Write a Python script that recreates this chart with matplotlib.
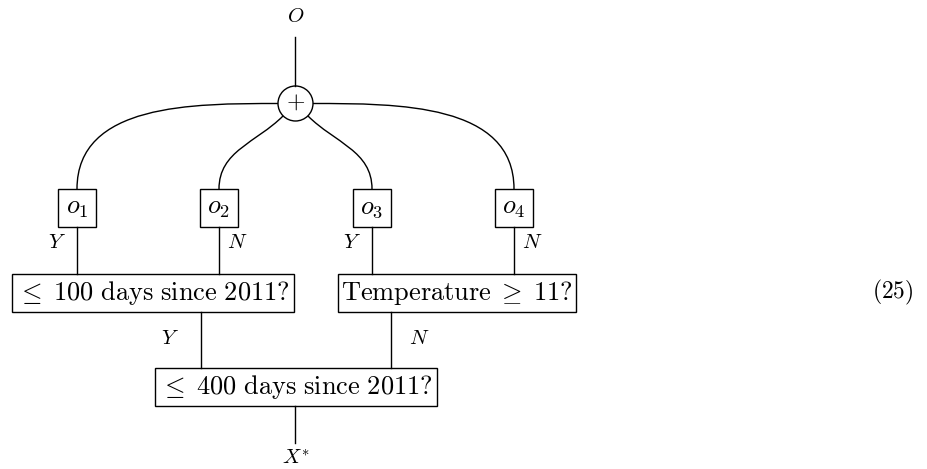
import matplotlib
matplotlib.use("Agg")
import matplotlib.pyplot as plt
from matplotlib.patches import Rectangle, Circle, PathPatch
from matplotlib.path import Path
import numpy as np

plt.rcParams['mathtext.fontset'] = 'cm'
plt.rcParams['font.family'] = 'serif'
plt.rcParams['font.serif'] = ['DejaVu Serif']

# --- diagram content ---
top_label = r"$O$"
bottom_label = r"$X^{*}$"
leaf_labels = [r"$o_1$", r"$o_2$", r"$o_3$", r"$o_4$"]
leaf_x = [77, 219, 372, 514]
leaf_edge_labels = [r"$Y$", r"$N$", r"$Y$", r"$N$"]
split_labels = [r"$\leq\;\mathrm{100\ days\ since\ 2011?}$",
                r"$\mathrm{Temperature}\;\geq\;\mathrm{11?}$"]
split_boxes = [(12, 274, 294, 312), (338, 274, 576, 312)]
split_down_x = [201, 391]
split_edge_labels = [r"$Y$", r"$N$"]
root_label = r"$\leq\;\mathrm{400\ days\ since\ 2011?}$"
root_box = (155, 368, 437, 406)
eq_number = r"$\mathrm{(25)}$"

W, H = 928, 469
fig = plt.figure(figsize=(W / 100, H / 100), dpi=100)
ax = fig.add_axes([0, 0, 1, 1])
ax.set_xlim(0, W)
ax.set_ylim(H, 0)
ax.axis('off')

lw = 1.0
c = 'black'
cx, cy, r = 295.5, 103.5, 17.5

# top
ax.text(cx, 17, top_label, ha='center', va='center', fontsize=15)
ax.plot([cx, cx], [37, cy - r], color=c, lw=lw)
ax.add_patch(Circle((cx, cy), r, fill=False, ec=c, lw=lw))
ax.text(cx, cy - 1, r"$+$", ha='center', va='center', fontsize=17)

# leaves (y axis points down, so positive sin goes downward)
bw, bt, bb = 38, 189, 227
out_angles = [180, 135, 45, 0]
for i, (x, lab) in enumerate(zip(leaf_x, leaf_labels)):
    ax.add_patch(Rectangle((x - bw / 2, bt), bw, bb - bt, fill=False, ec=c, lw=lw))
    ax.text(x, (bt + bb) / 2, lab, ha='center', va='center', fontsize=19)
    a = np.deg2rad(out_angles[i])
    p0 = np.array([cx + r * np.cos(a), cy + r * np.sin(a)])
    p3 = np.array([x, bt])
    d = np.hypot(*(p3 - p0)) * 0.3915
    p1 = p0 + d * np.array([np.cos(a), np.sin(a)])
    p2 = p3 + d * np.array([0, -1])
    path = Path([p0, p1, p2, p3], [Path.MOVETO, Path.CURVE4, Path.CURVE4, Path.CURVE4])
    ax.add_patch(PathPatch(path, fill=False, ec=c, lw=lw))
    ax.plot([x, x], [bb, 274], color=c, lw=lw)
    off = -20 if leaf_edge_labels[i] == r"$Y$" else 18
    ax.text(x + off, 243, leaf_edge_labels[i], ha='center', va='center', fontsize=15)

# split boxes
for (x0, y0, x1, y1), lab, dx, el in zip(split_boxes, split_labels, split_down_x, split_edge_labels):
    ax.add_patch(Rectangle((x0, y0), x1 - x0, y1 - y0, fill=False, ec=c, lw=lw))
    ax.text((x0 + x1) / 2, (y0 + y1) / 2, lab, ha='center', va='center', fontsize=19)
    ax.plot([dx, dx], [y1, root_box[1]], color=c, lw=lw)
    off = -31 if el == r"$Y$" else 28
    ax.text(dx + off, 338, el, ha='center', va='center', fontsize=15)

# root box
x0, y0, x1, y1 = root_box
ax.add_patch(Rectangle((x0, y0), x1 - x0, y1 - y0, fill=False, ec=c, lw=lw))
ax.text((x0 + x1) / 2, (y0 + y1) / 2, root_label, ha='center', va='center', fontsize=19)
ax.plot([cx, cx], [y1, 443], color=c, lw=lw)
ax.text(cx, 459, bottom_label, ha='center', va='center', fontsize=15)

ax.text(893, 292, eq_number, ha='center', va='center', fontsize=17)

fig.savefig("out.png", dpi=100)
